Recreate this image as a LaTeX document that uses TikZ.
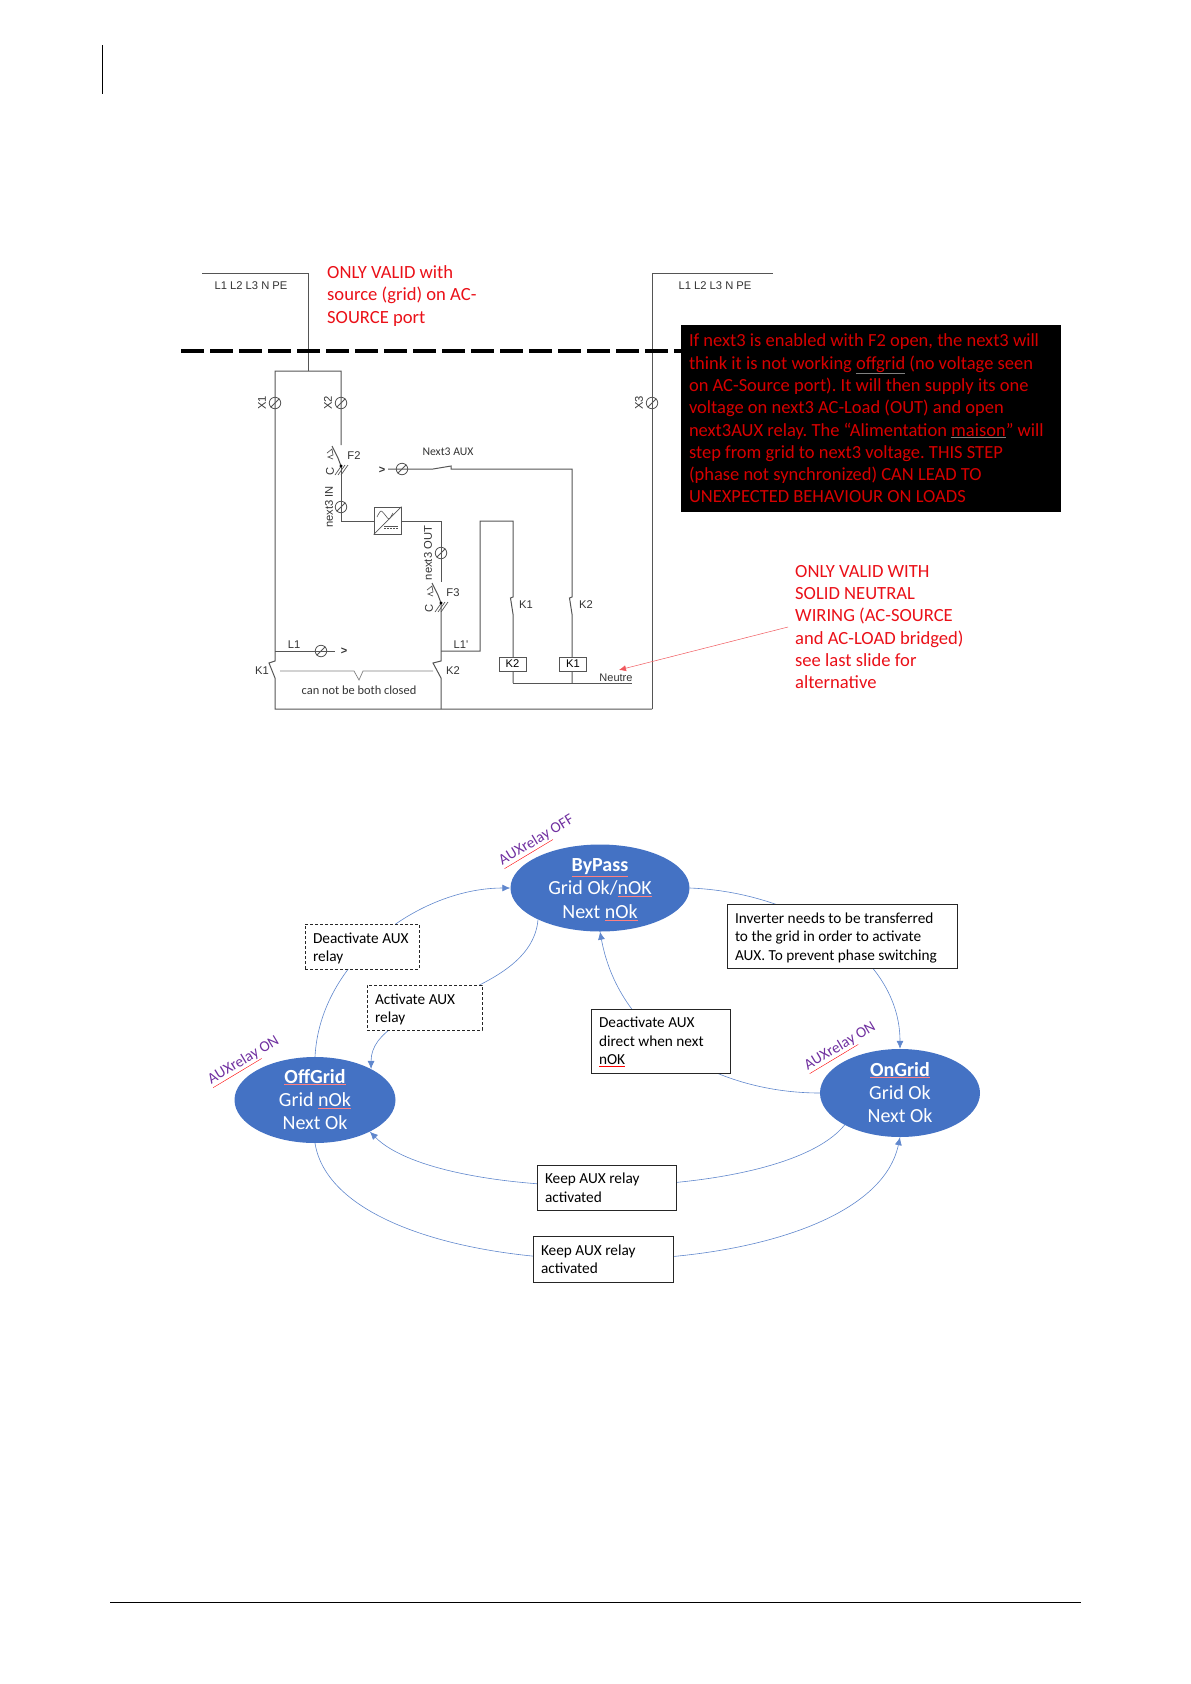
\documentclass[tikz,border=0pt]{standalone}
\usepackage{fontspec}
\setmainfont{Carlito}
\newfontfamily\wirefont{Liberation Sans}
\usetikzlibrary{arrows.meta,shapes.geometric}
\definecolor{stateblue}{HTML}{4472C4}
\definecolor{wiregray}{HTML}{555555}
\definecolor{auxpurple}{HTML}{7030A0}
\definecolor{notered}{HTML}{EA1018}
\definecolor{darkred}{HTML}{D80000}
\newcommand\spellword[3][red]{\textcolor{#1}{\underline{\textcolor{#2}{#3}}}}
\newcommand\breakerat[2]{%
   \begin{scope}[shift={(#1,#2)}]
      \draw[wire] (0,0) -- (-3,-8) -- (-9,-20);
      \draw[wire,line width=.7pt] (-14,-13) -- (-9,-17) -- (-8,-11) -- (-13,-9) -- (-8,-7);
      \foreach \d in {-3,0,3} {
         \draw[wire,line width=.7pt] ({\d-3},9) -- ({\d+4},-1);
      }
      \fill[black] (0,0) circle (1.6pt);
   \end{scope}}
\frenchspacing
\begin{document}
\begin{tikzpicture}[x=1pt,y=-1pt]
   \useasboundingbox (0,0) rectangle (1191,1684);
   \tikzstyle{wire}=[draw=wiregray, line width=1pt]
   \tikzstyle{terminal}=[circle, draw=wiregray, line width=.8pt, minimum size=11.5pt, inner sep=0pt]
   \tikzstyle{wirelabel}=[font=\wirefont\fontsize{11.2}{12}\selectfont, text=black!80, inner sep=0pt]
   \tikzstyle{coil}=[draw=wiregray, line width=.9pt, fill=white, minimum width=27pt, minimum height=14pt, inner sep=0pt, font=\wirefont\fontsize{11.2}{12}\selectfont]
   \tikzstyle{rednote}=[anchor=west, align=flush left, inner sep=0pt, text=notered, font=\fontsize{18.6}{22.3}\selectfont]
   \tikzstyle{state}=[ellipse, fill=stateblue, inner sep=0pt]
   \tikzstyle{statetext}=[inner sep=0pt, text=white, align=flush center, font=\fontsize{20}{23.4}\selectfont]
   \tikzstyle{auxlabel}=[rotate=31, inner sep=0pt, text=auxpurple, font=\fontsize{15.3}{17}\selectfont]
   \tikzstyle{note}=[draw=black!85, fill=white, line width=1pt, align=flush left, inner sep=0pt, font=\fontsize{15.3}{18.5}\selectfont]
   \tikzstyle{notedash}=[note, dash pattern=on 3pt off 2pt]
   \tikzstyle{flow}=[draw=stateblue!85, line width=.6pt, -{Latex[length=8pt,width=7pt]}]

   \draw[black, line width=1pt] (102.5,45) -- (102.5,94);
   \draw[black, line width=1pt] (110,1602.5) -- (1081,1602.5);

   \draw[wire] (202,273) -- (308,273) -- (308,371);
   \draw[wire] (652,709) -- (652,273) -- (773,273);
   \draw[wire] (341,445) -- (341,371) -- (275,371) -- (275,661) -- (269,663) -- (275,678) -- (275,709) -- (652,709);
   \draw[wire] (341,466) -- (341,521) -- (374,521);
   \draw[wire] (401,521) -- (441,521) -- (441,582);
   \draw[wire] (441,603) -- (441,661) -- (433,663) -- (441,678) -- (441,709);
   \draw[wire] (441,651) -- (480,651) -- (480,521) -- (513,521) -- (513,597) -- (510.5,598) -- (513,614) -- (513,683);
   \draw[wire] (388,469) -- (433,469) -- (451,466) -- (451,469) -- (572,469) -- (572,597) -- (569.5,598) -- (572,614) -- (572,683);
   \draw[wire] (275,651) -- (335,651);
   \draw[wire] (513,683) -- (632,683);
   \breakerat{341}{466}
   \breakerat{441}{603}

   \foreach \name/\xpos/\ypos in {tx1/275/403,tx2/341/403,tx3/652/403,tin/341/507,taux/402/469,tout/441/553,tl1/321/651} {
      \node[terminal] (\name) at (\xpos,\ypos) {};
      \draw[wiregray, line width=.8pt] (\name.225) -- (\name.45);
   }

   \node[draw=wiregray, line width=.9pt, fill=white, minimum size=27pt, inner sep=0pt] (inverter) at (387.5,520.5) {};
   \draw[wiregray, line width=.7pt] (inverter.south west) -- (inverter.north east);
   \draw[wiregray, line width=.6pt] plot[smooth] coordinates {(377,517) (381,511) (386,516) (389,519) (393,513)};
   \draw[wiregray, line width=.6pt] (384,526) -- (398,526);
   \draw[wiregray, line width=.6pt, dash pattern=on 2pt off 1pt] (384,528.5) -- (398,528.5);

   \node[coil] (coilktwo) at (512.5,664) {K2};
   \node[coil] (coilkone) at (573,664) {K1};

   \draw[gray, line width=.7pt] (280,671) -- (354,671) -- (359,680) -- (363,671) -- (433,671);

   \foreach \text/\xpos/\ypos in {X1/262/403,X2/328/403,X3/639/403,C/330/471,next3 IN/329/507,next3 OUT/428/553,C/429/608} {
      \node[wirelabel, rotate=90] at (\xpos,\ypos) {\text};
   }
   \foreach \text/\xpos/\ypos in {L1 L2 L3 N PE/251/286,L1 L2 L3 N PE/715/286,F2/354/456,F3/453/593,L1/294/645,L1'/461/645,K1/262/671,K2/453/671,K1/526/605,K2/586/605} {
      \node[wirelabel] at (\xpos,\ypos) {\text};
   }
   \node[wirelabel, font=\fontsize{11.7}{13}\selectfont] (auxtext) at (448,452) {Next3 AUX};
   \node[wirelabel, font=\fontsize{12.4}{14}\selectfont] (bothclosed) at (359,690) {can not be both closed};
   \node[wirelabel, font=\wirefont\fontsize{11}{12}\selectfont, inner sep=2pt] (neutre) at (616,678) {Neutre};
   \node[wirelabel, font=\wirefont\bfseries\fontsize{11}{12}\selectfont] (gtaux) at (382,470) {>};
   \node[wirelabel, font=\wirefont\bfseries\fontsize{11}{12}\selectfont] (gtlone) at (344,651) {>};

   \draw[black, line width=3.6pt, dash pattern=on 23pt off 6pt] (181,351) -- (690,351);

   \node[rednote] (acsource) at (327,296) {ONLY VALID with\\source (grid) on AC-\\SOURCE port};
   \node[rednote] (solidnote) at (795,627) {ONLY VALID WITH\\SOLID NEUTRAL\\WIRING (AC-SOURCE\\and AC-LOAD bridged)\\see last slide for\\alternative};
   \draw[notered!70, line width=.5pt, -{Latex[length=7pt,width=6pt]}] ([xshift=-7pt]solidnote.west) -- ([shift={(3pt,2pt)}]neutre.north);

   \node[fill=black, minimum width=380pt, minimum height=187pt, text width=364pt, inner sep=0pt, align=flush left, text=darkred, font=\fontsize{18.5}{22.3}\selectfont] (warning) at (871,418.5) {If next3 is enabled with F2 open, the next3 will\\think it is not working \spellword[gray]{darkred}{offgrid} (no voltage seen\\on AC-Source port). It will then supply its one\\voltage on next3 AC-Load (OUT) and open\\next3AUX relay. The “Alimentation \spellword[gray]{darkred}{maison}” will\\step from grid to next3 voltage. THIS STEP\\(phase not synchronized) CAN LEAD TO\\UNEXPECTED BEHAVIOUR ON LOADS};

   \node[state, minimum width=179pt, minimum height=87pt] (bypass) at (600,888) {};
   \node[state, minimum width=161pt, minimum height=86pt] (offgrid) at (315,1100) {};
   \node[state, minimum width=160pt, minimum height=88pt] (ongrid) at (900,1093) {};
   \node[statetext] (bypasstext) at (600,889.5) {\spellword[red!50!white]{white}{\textbf{ByPass}}\\Grid Ok/\spellword[red!50!white]{white}{nOK}\\Next \spellword[red!50!white]{white}{nOk}};
   \node[statetext] (offgridtext) at (315,1099.5) {\spellword[red!50!white]{white}{\textbf{OffGrid}}\\Grid \spellword[red!50!white]{white}{nOk}\\Next Ok};
   \node[statetext] (ongridtext) at (900,1092.5) {\spellword[red!50!white]{white}{\textbf{OnGrid}}\\Grid Ok\\Next Ok};

   \node[auxlabel] (auxbypass) at (537,841) {\spellword{auxpurple}{AUXrelay} OFF};
   \node[auxlabel] (auxoffgrid) at (244,1061) {\spellword{auxpurple}{AUXrelay} ON};
   \node[auxlabel] (auxongrid) at (840.5,1047) {\spellword{auxpurple}{AUXrelay} ON};

   \path[flow] (offgrid.north) .. controls +(5,-97) and +(-90,0) .. (bypass.west);
   \path[flow] (bypass.207) .. controls +(-7,80) and +(0,-68) .. (offgrid.29);
   \path[flow] (bypass.east) .. controls +(105,4) and +(0,-95) .. (ongrid.north);
   \path[flow] (ongrid.west) .. controls +(-100,0) and +(20,108) .. (bypass.south);
   \path[flow] (ongrid.210) .. controls +(-65,80) and +(71,72) .. (offgrid.-30);
   \path[flow] (offgrid.south) .. controls +(25,155) and +(-34,161) .. (ongrid.south);

   \node[notedash, minimum width=114pt, minimum height=45pt, text width=98pt] (deactrelay) at (362,946.5) {\rule{0pt}{14pt}Deactivate AUX\\relay};
   \node[notedash, minimum width=115pt, minimum height=45pt, text width=99pt] (actrelay) at (424.5,1007.5) {\rule{0pt}{14pt}Activate AUX\\relay};
   \node[note, minimum width=230pt, minimum height=64pt, text width=214pt] (transfer) at (842,936) {\rule{0pt}{14pt}Inverter needs to be transferred\\to the grid in order to activate\\AUX. To prevent phase switching};
   \node[note, minimum width=139pt, minimum height=64pt, text width=123pt] (deactdirect) at (660.5,1041) {\rule{0pt}{13pt}Deactivate AUX\\direct when next\\\spellword{black}{nOK}};
   \node[note, minimum width=139pt, minimum height=45pt, text width=123pt] (keepone) at (606.5,1187.5) {Keep AUX relay\\activated};
   \node[note, minimum width=140pt, minimum height=46pt, text width=124pt] (keeptwo) at (603,1259) {Keep AUX relay\\activated};
\end{tikzpicture}
\end{document}
